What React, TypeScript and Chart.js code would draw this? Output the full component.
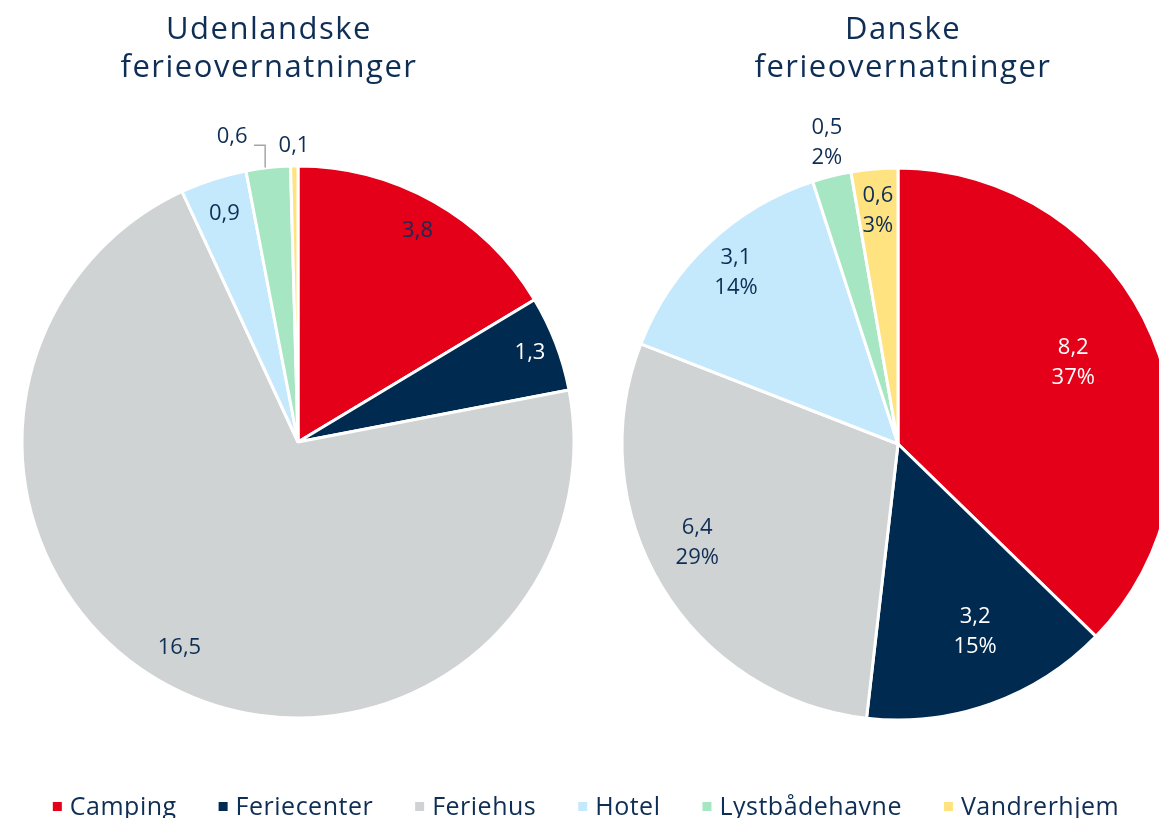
import React, { useEffect, useRef } from "react";
import { Chart, registerables } from "chart.js";

Chart.register(...registerables);

// ---------------- data ----------------
const categories = ["Camping", "Feriecenter", "Feriehus", "Hotel", "Lystbådehavne", "Vandrerhjem"];
const foreignValues = [3.8, 1.3, 16.5, 0.9, 0.6, 0.1];
const danishValues = [8.2, 3.2, 6.4, 3.1, 0.5, 0.6];
const foreignTitle = ["Udenlandske", "ferieovernatninger"];
const danishTitle = ["Danske", "ferieovernatninger"];

// ---------------- styles ----------------
const sliceColors = ["#E30018", "#002A4F", "#D0D3D4", "#C4E9FC", "#A6E6C2", "#FFE380"];
const TEXT = "#0F2E55";
const FONT = "'Open Sans', 'DejaVu Sans', sans-serif";
// label placement: [radius fraction, angle nudge in degrees]
const foreignLabelPlace = [[0.88, 0], [0.9, 0], [0.86, 2.8], [0.87, 0], [1.13, -6], [1.075, 0]];
const danishLabelPlace = [[0.7, -2], [0.735, -2.7], [0.81, 5], [0.855, 0], [1.12, 0.6], [0.85, 0]];
const foreignLabelColors = [TEXT, "#FFFFFF", TEXT, TEXT, TEXT, TEXT];
const danishLabelColors = ["#FFFFFF", "#FFFFFF", TEXT, TEXT, TEXT, TEXT];

const fmt = (v: number) => v.toFixed(1).replace(".", ",");

type OverlayOpts = {
  title: string[];
  titleX: number;
  titleY: number;
  labelPlace: number[][];
  labelColors: string[];
  showPct: boolean;
  leaderIndex?: number;
  legend?: boolean;
};

function makeOverlay(o: OverlayOpts) {
  return {
    id: "overlay",
    afterDraw(chart: any) {
      const ctx: CanvasRenderingContext2D = chart.ctx;
      const meta = chart.getDatasetMeta(0);
      const data = chart.data.datasets[0].data as number[];
      const total = data.reduce((a, b) => a + b, 0);
      ctx.save();
      // title
      ctx.fillStyle = TEXT;
      ctx.font = `500 31px ${FONT}`;
      (ctx as any).letterSpacing = "1.5px";
      ctx.textAlign = "center";
      ctx.textBaseline = "middle";
      o.title.forEach((t, i) => ctx.fillText(t, o.titleX, o.titleY + i * 38));
      (ctx as any).letterSpacing = "0px";

      // data labels
      ctx.font = `400 22px ${FONT}`;
      meta.data.forEach((arc: any, i: number) => {
        const p = arc.getProps(["x", "y", "startAngle", "endAngle", "outerRadius"], true);
        const [rf, da] = o.labelPlace[i];
        const mid = (p.startAngle + p.endAngle) / 2;
        const a = mid + (da * Math.PI) / 180;
        const lx = p.x + Math.cos(a) * p.outerRadius * rf;
        const ly = p.y + Math.sin(a) * p.outerRadius * rf;
        const lines = [fmt(data[i])];
        if (o.showPct) lines.push(Math.round((data[i] / total) * 100) + "%");
        ctx.fillStyle = o.labelColors[i];
        const lh = 30;
        const y0 = ly - ((lines.length - 1) * lh) / 2;
        lines.forEach((t, k) => ctx.fillText(t, lx, y0 + k * lh));
        if (o.leaderIndex === i) {
          const ex = p.x + Math.cos(mid) * p.outerRadius;
          const ey = p.y + Math.sin(mid) * p.outerRadius;
          ctx.strokeStyle = "#A6A6A6";
          ctx.lineWidth = 1.5;
          ctx.beginPath();
          ctx.moveTo(lx + 22, ly + 8);
          ctx.lineTo(ex - 3, ly + 8);
          ctx.lineTo(ex - 3, ey);
          ctx.stroke();
        }
      });

      // legend
      if (o.legend) {
        ctx.font = `400 25px ${FONT}`;
        (ctx as any).letterSpacing = "0.5px";
        ctx.textAlign = "left";
        ctx.textBaseline = "alphabetic";
        const box = 9, gapBox = 8, gapItem = 42;
        const widths = categories.map((c) => ctx.measureText(c).width);
        const total = widths.reduce((a, w) => a + box + gapBox + w, 0) + gapItem * (categories.length - 1);
        let x = 586 - total / 2;
        categories.forEach((c, i) => {
          ctx.fillStyle = sliceColors[i];
          ctx.fillRect(x, 802, box, box);
          ctx.fillStyle = TEXT;
          ctx.fillText(c, x + box + gapBox, 815);
          x += box + gapBox + widths[i] + gapItem;
        });
        (ctx as any).letterSpacing = "0px";
      }
      ctx.restore();
    },
  };
}

function makeConfig(values: number[], padding: any, overlay: any): any {
  return {
    type: "pie",
    data: {
      labels: categories,
      datasets: [
        {
          data: values,
          backgroundColor: sliceColors,
          borderColor: "#FFFFFF",
          borderWidth: 3,
        },
      ],
    },
    options: {
      responsive: false,
      animation: false,
      events: [],
      layout: { padding },
      plugins: {
        legend: { display: false },
        tooltip: { enabled: false },
        title: { display: false },
      },
    },
    plugins: [overlay],
  };
}

export default function App() {
  const leftRef = useRef<HTMLCanvasElement>(null);
  const rightRef = useRef<HTMLCanvasElement>(null);

  useEffect(() => {
    document.body.style.margin = "0";
    const left = new Chart(
      leftRef.current!,
      makeConfig(
        foreignValues,
        { left: 20.5, right: 583.5, top: 164.5, bottom: 98.5 },
        makeOverlay({
          title: foreignTitle,
          titleX: 269,
          titleY: 30,
          labelPlace: foreignLabelPlace,
          labelColors: foreignLabelColors,
          showPct: false,
          leaderIndex: 4,
          legend: true,
        })
      )
    );
    const right = new Chart(
      rightRef.current!,
      makeConfig(
        danishValues,
        { left: 20.5, right: 24.5, top: 166.5, bottom: 96.5 },
        makeOverlay({
          title: danishTitle,
          titleX: 303,
          titleY: 30,
          labelPlace: danishLabelPlace,
          labelColors: danishLabelColors,
          showPct: true,
        })
      )
    );
    return () => {
      left.destroy();
      right.destroy();
    };
  }, []);

  return (
    <div style={{ position: "fixed", left: 0, top: 0, width: 1159, height: 818, overflow: "hidden", background: "#fff" }}>
      <canvas ref={leftRef} width={1159} height={818} style={{ position: "absolute", left: 0, top: 0 }} />
      <canvas ref={rightRef} width={600} height={818} style={{ position: "absolute", left: 600, top: 0 }} />
    </div>
  );
}
